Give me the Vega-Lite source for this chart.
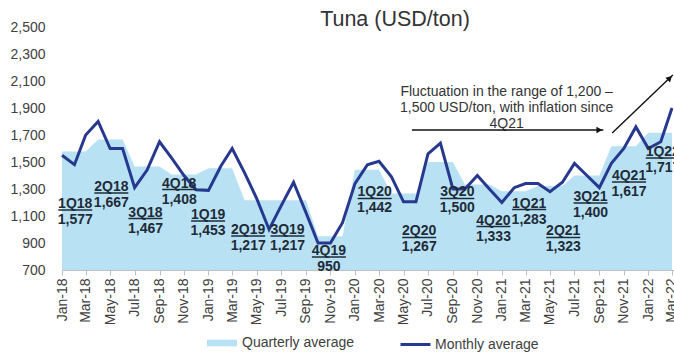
{
  "$schema": "https://vega.github.io/schema/vega-lite/v6.json",
  "width": 612,
  "height": 243,
  "autosize": {"type": "none"},
  "padding": {"left": 62, "top": 27, "right": 0, "bottom": 82},
  "background": "white",
  "config": {"view": {"stroke": null}, "font": "Liberation Sans", "axis": {"labelOverlap": false}},
  "title": {"text": "Tuna (USD/ton)", "fontSize": 21.5, "fontWeight": "normal", "color": "#333333", "anchor": "middle", "frame": "group", "dx": 27, "baseline": "alphabetic", "offset": 0, "dy": 27},
  "datasets": {
    "monthly": [
      {"date": "2018-01-01", "price": 1550, "qavg": 1577},
      {"date": "2018-02-01", "price": 1480, "qavg": 1577},
      {"date": "2018-03-01", "price": 1700, "qavg": 1577},
      {"date": "2018-04-01", "price": 1800, "qavg": 1667},
      {"date": "2018-05-01", "price": 1600, "qavg": 1667},
      {"date": "2018-06-01", "price": 1600, "qavg": 1667},
      {"date": "2018-07-01", "price": 1310, "qavg": 1467},
      {"date": "2018-08-01", "price": 1440, "qavg": 1467},
      {"date": "2018-09-01", "price": 1650, "qavg": 1467},
      {"date": "2018-10-01", "price": 1530, "qavg": 1408},
      {"date": "2018-11-01", "price": 1400, "qavg": 1408},
      {"date": "2018-12-01", "price": 1295, "qavg": 1408},
      {"date": "2019-01-01", "price": 1290, "qavg": 1453},
      {"date": "2019-02-01", "price": 1470, "qavg": 1453},
      {"date": "2019-03-01", "price": 1600, "qavg": 1453},
      {"date": "2019-04-01", "price": 1420, "qavg": 1217},
      {"date": "2019-05-01", "price": 1230, "qavg": 1217},
      {"date": "2019-06-01", "price": 1000, "qavg": 1217},
      {"date": "2019-07-01", "price": 1175, "qavg": 1217},
      {"date": "2019-08-01", "price": 1350, "qavg": 1217},
      {"date": "2019-09-01", "price": 1125, "qavg": 1217},
      {"date": "2019-10-01", "price": 900, "qavg": 950},
      {"date": "2019-11-01", "price": 900, "qavg": 950},
      {"date": "2019-12-01", "price": 1050, "qavg": 950},
      {"date": "2020-01-01", "price": 1340, "qavg": 1442},
      {"date": "2020-02-01", "price": 1480, "qavg": 1442},
      {"date": "2020-03-01", "price": 1505, "qavg": 1442},
      {"date": "2020-04-01", "price": 1390, "qavg": 1267},
      {"date": "2020-05-01", "price": 1205, "qavg": 1267},
      {"date": "2020-06-01", "price": 1205, "qavg": 1267},
      {"date": "2020-07-01", "price": 1560, "qavg": 1500},
      {"date": "2020-08-01", "price": 1640, "qavg": 1500},
      {"date": "2020-09-01", "price": 1300, "qavg": 1500},
      {"date": "2020-10-01", "price": 1300, "qavg": 1333},
      {"date": "2020-11-01", "price": 1400, "qavg": 1333},
      {"date": "2020-12-01", "price": 1300, "qavg": 1333},
      {"date": "2021-01-01", "price": 1200, "qavg": 1283},
      {"date": "2021-02-01", "price": 1310, "qavg": 1283},
      {"date": "2021-03-01", "price": 1340, "qavg": 1283},
      {"date": "2021-04-01", "price": 1340, "qavg": 1323},
      {"date": "2021-05-01", "price": 1280, "qavg": 1323},
      {"date": "2021-06-01", "price": 1350, "qavg": 1323},
      {"date": "2021-07-01", "price": 1490, "qavg": 1400},
      {"date": "2021-08-01", "price": 1400, "qavg": 1400},
      {"date": "2021-09-01", "price": 1310, "qavg": 1400},
      {"date": "2021-10-01", "price": 1490, "qavg": 1617},
      {"date": "2021-11-01", "price": 1600, "qavg": 1617},
      {"date": "2021-12-01", "price": 1760, "qavg": 1617},
      {"date": "2022-01-01", "price": 1600, "qavg": 1717},
      {"date": "2022-02-01", "price": 1650, "qavg": 1717},
      {"date": "2022-03-01", "price": 1900, "qavg": 1717}
    ],
    "quarters": [
      {"quarter": "1Q18", "avg": "1,577", "date": "2018-02-03", "pos": 1144},
      {"quarter": "2Q18", "avg": "1,667", "date": "2018-05-04", "pos": 1270},
      {"quarter": "3Q18", "avg": "1,467", "date": "2018-07-28", "pos": 1081},
      {"quarter": "4Q18", "avg": "1,408", "date": "2018-10-20", "pos": 1296},
      {"quarter": "1Q19", "avg": "1,453", "date": "2018-12-31", "pos": 1063},
      {"quarter": "2Q19", "avg": "1,217", "date": "2019-04-10", "pos": 952},
      {"quarter": "3Q19", "avg": "1,217", "date": "2019-07-17", "pos": 952},
      {"quarter": "4Q19", "avg": "950", "date": "2019-10-28", "pos": 796},
      {"quarter": "1Q20", "avg": "1,442", "date": "2020-02-19", "pos": 1230},
      {"quarter": "2Q20", "avg": "1,267", "date": "2020-06-09", "pos": 941},
      {"quarter": "3Q20", "avg": "1,500", "date": "2020-09-12", "pos": 1230},
      {"quarter": "4Q20", "avg": "1,333", "date": "2020-12-11", "pos": 1022},
      {"quarter": "1Q21", "avg": "1,283", "date": "2021-03-10", "pos": 1148},
      {"quarter": "2Q21", "avg": "1,323", "date": "2021-06-03", "pos": 941},
      {"quarter": "3Q21", "avg": "1,400", "date": "2021-08-10", "pos": 1196},
      {"quarter": "4Q21", "avg": "1,617", "date": "2021-11-14", "pos": 1352},
      {"quarter": "1Q22", "avg": "1,717", "date": "2022-02-06", "pos": 1530}
    ]
  },
  "encoding": {
    "x": {
      "field": "date", "type": "temporal",
      "scale": {"type": "utc", "domain": [{"year": 2018, "month": 1, "date": 1, "utc": true}, {"year": 2022, "month": 3, "date": 6, "utc": true}]},
      "axis": {"title": null, "format": "%b-%y", "tickCount": {"interval": "month", "step": 2}, "labelAngle": 270, "labelFontSize": 14, "labelColor": "#404040", "labelPadding": 3, "tickSize": 5, "tickColor": "#bfbfbf", "domainColor": "#bfbfbf", "grid": false, "labelFlush": false, "labelOverlap": false}
    }
  },
  "layer": [
    {
      "data": {"name": "monthly"},
      "mark": {"type": "area", "opacity": 1},
      "encoding": {
        "y": {"field": "qavg", "type": "quantitative", "scale": {"domain": [700, 2500], "zero": false, "nice": false},
          "axis": {"title": null, "values": [700, 900, 1100, 1300, 1500, 1700, 1900, 2100, 2300, 2500], "tickCount": 12, "format": ",d", "domain": false, "ticks": false, "grid": false, "labelFontSize": 14, "labelColor": "#404040", "labelPadding": 17, "labelOverlap": false, "labelBound": false}},
        "y2": {"datum": 700},
        "fill": {"datum": "Quarterly average", "type": "nominal",
          "scale": {"domain": ["Quarterly average"], "range": ["#b8e2f4"]},
          "legend": {"title": null, "orient": "none", "legendX": 145, "legendY": 301, "padding": 0, "symbolType": "M-1,-0.22H1V0.22H-1Z", "symbolSize": 900, "symbolStrokeWidth": 0, "labelFontSize": 14, "labelColor": "#404040", "labelOffset": 5}}
      }
    },
    {
      "data": {"name": "monthly"},
      "mark": {"type": "line", "strokeWidth": 3, "strokeJoin": "miter"},
      "encoding": {
        "y": {"field": "price", "type": "quantitative",
          "axis": {"title": null, "values": [700, 900, 1100, 1300, 1500, 1700, 1900, 2100, 2300, 2500], "tickCount": 12, "format": ",d", "domain": false, "ticks": false, "grid": false, "labelFontSize": 14, "labelColor": "#404040", "labelPadding": 17, "labelOverlap": false, "labelBound": false}},
        "stroke": {"datum": "Monthly average", "type": "nominal",
          "scale": {"domain": ["Monthly average"], "range": ["#27398f"]},
          "legend": {"title": null, "orient": "none", "legendX": 337, "legendY": 301, "padding": 0, "symbolType": "stroke", "symbolSize": 900, "symbolStrokeWidth": 3, "labelFontSize": 14, "labelColor": "#404040", "labelOffset": 3}}
      }
    },
    {
      "data": {"name": "quarters"},
      "mark": {"type": "rule", "color": "#1f2b38", "strokeWidth": 1.5, "xOffset": -17, "x2Offset": 17},
      "encoding": {
        "x2": {"field": "date"},
        "y": {"field": "pos", "type": "quantitative"}
      }
    },
    {
      "data": {"name": "quarters"},
      "mark": {"type": "text", "fontSize": 14, "fontWeight": "bold", "color": "#1f2b38", "baseline": "alphabetic", "dy": -2},
      "encoding": {
        "y": {"field": "pos", "type": "quantitative"},
        "text": {"field": "quarter"}
      }
    },
    {
      "data": {"name": "quarters"},
      "mark": {"type": "text", "fontSize": 14, "fontWeight": "bold", "color": "#1f2b38", "baseline": "alphabetic", "dy": 14},
      "encoding": {
        "y": {"field": "pos", "type": "quantitative"},
        "text": {"field": "avg"}
      }
    },
    {
      "data": {"values": [{"date": "2021-01-13", "level": 2018, "note": "Fluctuation in the range of 1,200 –\n1,500 USD/ton, with inflation since\n4Q21"}]},
      "mark": {"type": "text", "fontSize": 14, "color": "#333333", "align": "center", "baseline": "middle", "lineBreak": "\n", "lineHeight": 16},
      "encoding": {
        "y": {"field": "level", "type": "quantitative"},
        "text": {"field": "note"}
      }
    },
    {
      "data": {"values": [
        {"date": "2020-05-22", "end": "2021-09-11", "from": 1737, "to": 1737},
        {"date": "2021-10-03", "end": "2022-03-03", "from": 1715, "to": 2144}
      ]},
      "mark": {"type": "rule", "color": "#111111", "strokeWidth": 1.4},
      "encoding": {
        "x2": {"field": "end"},
        "y": {"field": "from", "type": "quantitative"},
        "y2": {"field": "to"}
      }
    },
    {
      "data": {"values": [{"date": "2021-09-11", "level": 1737}]},
      "mark": {"type": "point", "shape": "triangle-right", "filled": true, "color": "#111111", "size": 45, "xOffset": -4, "opacity": 1},
      "encoding": {"y": {"field": "level", "type": "quantitative"}}
    },
    {
      "data": {"values": [{"date": "2022-03-03", "level": 2144}]},
      "mark": {"type": "point", "shape": "triangle-up", "angle": 46, "filled": true, "color": "#111111", "size": 45, "xOffset": -3, "yOffset": 3, "opacity": 1},
      "encoding": {"y": {"field": "level", "type": "quantitative"}}
    }
  ]
}
